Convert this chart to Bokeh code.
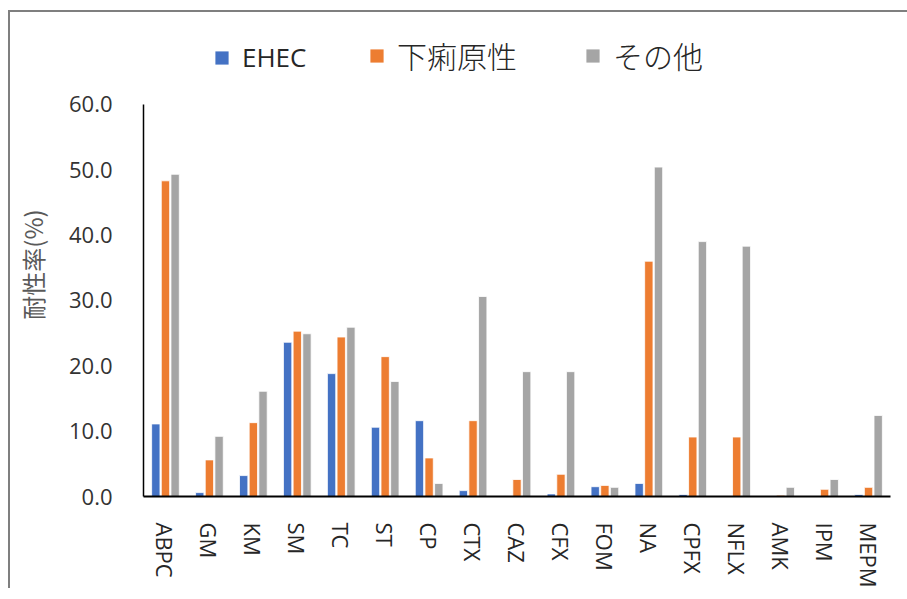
from bokeh.plotting import figure
from bokeh.models import (FactorRange, Range1d, FixedTicker, NumeralTickFormatter,
                          Legend, LegendItem, ColumnDataSource)
from bokeh.transform import dodge
from bokeh.embed import file_html
from bokeh.resources import INLINE

drugs = ["ABPC", "GM", "KM", "SM", "TC", "ST", "CP", "CTX", "CAZ", "CFX",
         "FOM", "NA", "CPFX", "NFLX", "AMK", "IPM", "MEPM"]
ehec = [11.1, 0.6, 3.2, 23.6, 18.8, 10.6, 11.6, 0.9, 0.0, 0.4,
        1.5, 2.0, 0.3, 0.0, 0.0, 0.0, 0.3]
geri = [48.3, 5.6, 11.3, 25.3, 24.4, 21.4, 5.9, 11.6, 2.6, 3.4,
        1.7, 36.0, 9.1, 9.1, 0.2, 1.1, 1.4]
other = [49.3, 9.2, 16.1, 24.9, 25.9, 17.6, 2.0, 30.6, 19.1, 19.1,
         1.4, 50.4, 39.0, 38.3, 1.4, 2.6, 12.4]
series_names = ["EHEC", "下痢原性", "その他"]
series_colors = ["#4472C4", "#ED7D31", "#A5A5A5"]
y_ticks = [0, 10, 20, 30, 40, 50, 60]
y_max = 60
y_title = "耐性率(%)"

src = ColumnDataSource(dict(drug=drugs, ehec=ehec, geri=geri, other=other))

# layout (canvas pixels)
W, H = 905, 578
ML, MR, MT, MB = 133, 25, 20, 93
axis_top_px = 92          # where the top of the value axis sits
frame_h = H - MT - MB
y_end = y_max * frame_h / (H - MB - axis_top_px)

p = figure(x_range=FactorRange(*drugs, range_padding=0), y_range=Range1d(0, y_end),
           width=W, height=H, output_backend="svg", toolbar_location=None,
           min_border_left=ML, min_border_right=MR, min_border_top=MT,
           min_border_bottom=MB)
p.styles = {"border-left": "2px solid #7f7f7f", "border-top": "2px solid #7f7f7f",
            "margin-top": "10px", "margin-left": "8px"}
p.outline_line_color = None
p.xgrid.visible = False
p.ygrid.visible = False
p.background_fill_color = "white"
p.border_fill_color = "white"

offsets = [-0.22, 0.0, 0.22]
fields = ["ehec", "geri", "other"]
swatches = []
for f, off, c in zip(fields, offsets, series_colors):
    p.vbar(x=dodge("drug", off, range=p.x_range), top=f, width=0.19, source=src,
           fill_color=c, line_color="white", line_width=0.8)
    # zero-size square markers: only provide the legend swatch
    s = p.scatter(x=dodge("drug", off, range=p.x_range), y=f, source=src,
                  marker="square", size=0, fill_color=c, line_color=None)
    swatches.append(s)

# y axis
p.yaxis.bounds = (0, y_max)
p.yaxis.ticker = FixedTicker(ticks=y_ticks)
p.yaxis.formatter = NumeralTickFormatter(format="0.0")
p.yaxis.major_tick_line_color = None
p.yaxis.minor_tick_line_color = None
p.yaxis.major_label_standoff = 25
p.yaxis.major_label_text_font = "Open Sans"
p.yaxis.major_label_text_font_size = "22px"
p.yaxis.major_label_text_color = "#333333"
p.yaxis.axis_line_color = "black"
p.yaxis.axis_line_width = 1.5
p.yaxis.axis_label = y_title
p.yaxis.axis_label_text_font = "Noto Sans CJK JP"
p.yaxis.axis_label_text_font_size = "24px"
p.yaxis.axis_label_text_font_style = "normal"
p.yaxis.axis_label_text_color = "#595959"
p.yaxis.axis_label_standoff = 16

# x axis
p.xaxis.major_tick_line_color = None
p.xaxis.minor_tick_line_color = None
p.xaxis.major_label_orientation = "vertical"
p.xaxis.major_label_standoff = 20
p.xaxis.major_label_text_font = "Open Sans"
p.xaxis.major_label_text_font_size = "22px"
p.xaxis.major_label_text_color = "#262626"
p.xaxis.axis_line_color = "black"
p.xaxis.axis_line_width = 2

# legends (one per item for precise placement)
leg_x = [62, 217, 433]
leg_fonts = ["Open Sans", "Noto Sans CJK JP Light, Noto Sans CJK JP",
             "Noto Sans CJK JP Light, Noto Sans CJK JP"]
leg_sizes = ["26px", "30px", "30px"]
for name, r, lx, fnt, fs in zip(series_names, swatches, leg_x, leg_fonts, leg_sizes):
    lg = Legend(items=[LegendItem(label=name, renderers=[r])], location=(lx, 419),
                orientation="horizontal", padding=0, margin=0, border_line_color=None,
                background_fill_alpha=0, glyph_width=33, glyph_height=33,
                label_standoff=4, label_text_font=fnt, label_text_font_size=fs,
                label_text_color="#262626", label_height=40)
    p.add_layout(lg, "center")

open("out.html", "w").write(file_html(p, INLINE))
